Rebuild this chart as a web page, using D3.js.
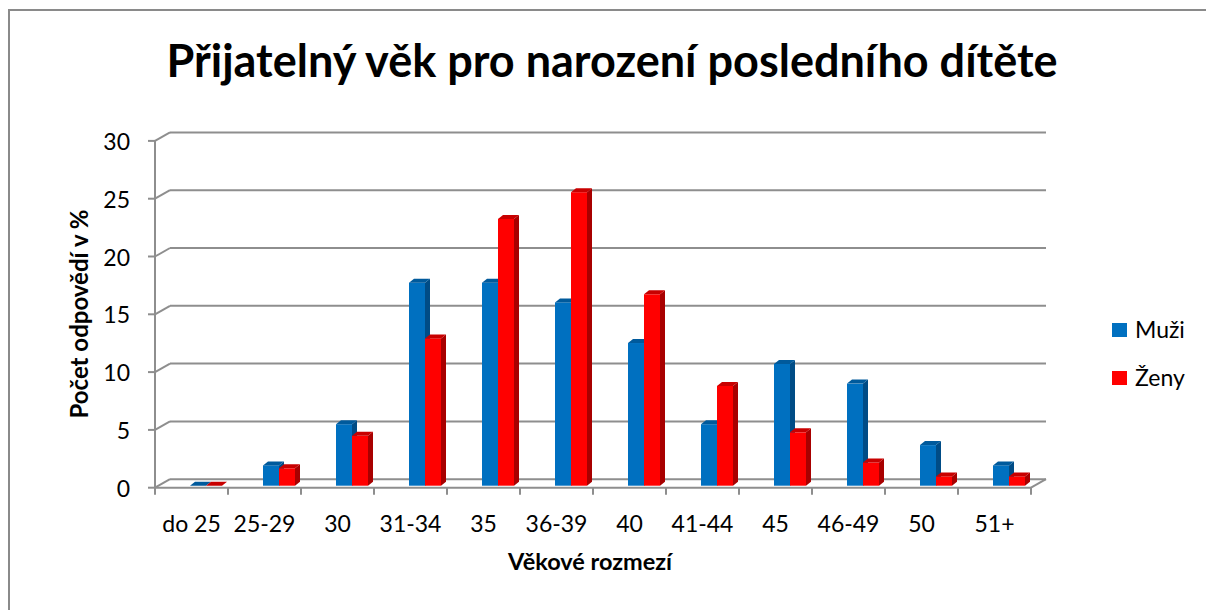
<!DOCTYPE html>
<html>
<head>
<meta charset="utf-8">
<script src="https://cdn.jsdelivr.net/npm/d3@7"></script>
<style>
  body { margin: 0; background: #fff; }
  text { font-family: Lato, "Open Sans", sans-serif; fill: #000; }
</style>
</head>
<body>
<div id="chart"></div>
<script>
// data
var categories = ["do 25", "25-29", "30", "31-34", "35", "36-39", "40", "41-44", "45", "46-49", "50", "51+"];
var muzi = [0, 1.75, 5.3, 17.5, 17.5, 15.8, 12.3, 5.3, 10.5, 8.8, 3.5, 1.75];
var zeny = [0, 1.5, 4.3, 12.7, 23, 25.3, 16.5, 8.6, 4.6, 2.0, 0.8, 0.8];
var yTicks = [0, 5, 10, 15, 20, 25, 30];
var seriesNames = ["Muži", "Ženy"];

var W = 1206, H = 610;
var blue = {front: "#0070c0", side: "#004c86", top: "#005a9c"};
var red = {front: "#ff0000", side: "#a80000", top: "#c80000"};
var gridColor = "#8e8e8e";

// 3d offsets
var depthX = 15, depthY = -8.5;   // floor / wall depth
var barDX = 5, barDY = -4;        // bar depth
var barW = 16;

var svg = d3.select("#chart").append("svg")
    .attr("width", W)
    .attr("height", H);

// outer border
svg.append("rect")
    .attr("x", 9).attr("y", 10)
    .attr("width", 1210).attr("height", 640)
    .attr("fill", "#fff")
    .attr("stroke", "#8a8a8a").attr("stroke-width", 2);

var x = d3.scaleBand()
    .domain(categories)
    .range([155, 1031]);

var y = d3.scaleLinear()
    .domain([0, 30])
    .range([487.7, 140.9]);

var yBar = d3.scaleLinear()
    .domain([0, 30])
    .range([485.7, 137.7]);

/******** walls and gridlines ********/
var grid = svg.append("g");
grid.selectAll("line.back")
    .data(yTicks)
    .enter().append("line")
    .attr("x1", 155 + depthX).attr("x2", 1031 + depthX)
    .attr("y1", function (d) { return y(d) + depthY; })
    .attr("y2", function (d) { return y(d) + depthY; })
    .attr("stroke", gridColor).attr("stroke-width", 2);
grid.selectAll("line.wall")
    .data(yTicks)
    .enter().append("line")
    .attr("x1", 155).attr("x2", 155 + depthX)
    .attr("y1", function (d) { return y(d); })
    .attr("y2", function (d) { return y(d) + depthY; })
    .attr("stroke", gridColor).attr("stroke-width", 2);
// left axis + ticks
grid.append("line")
    .attr("x1", 155).attr("x2", 155)
    .attr("y1", y(30)).attr("y2", y(0))
    .attr("stroke", gridColor).attr("stroke-width", 2);
grid.selectAll("line.ytick")
    .data(yTicks)
    .enter().append("line")
    .attr("x1", 148).attr("x2", 155)
    .attr("y1", function (d) { return y(d); })
    .attr("y2", function (d) { return y(d); })
    .attr("stroke", gridColor).attr("stroke-width", 2);
// floor front edge and right side
grid.append("line")
    .attr("x1", 155).attr("x2", 1031)
    .attr("y1", y(0)).attr("y2", y(0))
    .attr("stroke", gridColor).attr("stroke-width", 2);
grid.append("line")
    .attr("x1", 1031).attr("x2", 1031 + depthX)
    .attr("y1", y(0)).attr("y2", y(0) + depthY)
    .attr("stroke", gridColor).attr("stroke-width", 2);
// category ticks
grid.selectAll("line.xtick")
    .data(categories.concat(["end"]))
    .enter().append("line")
    .attr("x1", function (d, i) { return 155 + i * x.bandwidth(); })
    .attr("x2", function (d, i) { return 155 + i * x.bandwidth(); })
    .attr("y1", y(0)).attr("y2", y(0) + 7)
    .attr("stroke", gridColor).attr("stroke-width", 2);

/******** bars ********/
function drawBar(g, x0, v, c) {
    var yt = yBar(v), yb = yBar(0);
    g.append("rect")
        .attr("x", x0).attr("y", yt)
        .attr("width", barW).attr("height", yb - yt)
        .attr("fill", c.front);
    g.append("path")
        .attr("d", "M" + (x0 + barW) + "," + yt + "L" + (x0 + barW + barDX) + "," + (yt + barDY) +
            "L" + (x0 + barW + barDX) + "," + (yb + barDY) + "L" + (x0 + barW) + "," + yb + "Z")
        .attr("fill", c.side);
    g.append("path")
        .attr("d", "M" + x0 + "," + yt + "L" + (x0 + barDX) + "," + (yt + barDY) +
            "L" + (x0 + barW + barDX) + "," + (yt + barDY) + "L" + (x0 + barW) + "," + yt + "Z")
        .attr("fill", c.top);
}

var bars = svg.append("g");
categories.forEach(function (cat, i) {
    var x0 = x(cat) + 35;
    var g = bars.append("g").attr("id", "bar" + i);
    drawBar(g, x0, muzi[i], blue);
    drawBar(g, x0 + barW, zeny[i], red);
});

/******** labels ********/
svg.selectAll("text.ylab")
    .data(yTicks)
    .enter().append("text")
    .attr("x", 130)
    .attr("y", function (d) { return y(d) + 9; })
    .attr("text-anchor", "end")
    .style("font-size", "23px")
    .text(function (d) { return d; });

svg.selectAll("text.xlab")
    .data(categories)
    .enter().append("text")
    .attr("x", function (d) { return x(d) + x.bandwidth() / 2; })
    .attr("y", 532)
    .attr("text-anchor", "middle")
    .style("font-size", "23px")
    .text(function (d) { return d; });

svg.append("text")
    .attr("x", 612).attr("y", 77)
    .attr("text-anchor", "middle")
    .style("font-size", "45px").style("font-weight", "bold")
    .text("Přijatelný věk pro narození posledního dítěte");

svg.append("text")
    .attr("transform", "translate(88,314) rotate(-90)")
    .attr("text-anchor", "middle")
    .style("font-size", "24px").style("font-weight", "bold")
    .text("Počet odpovědí v %");

svg.append("text")
    .attr("x", 590).attr("y", 570)
    .attr("text-anchor", "middle")
    .style("font-size", "23.5px").style("font-weight", "bold")
    .text("Věkové rozmezí");

/******** legend ********/
var legend = svg.append("g");
[blue, red].forEach(function (c, i) {
    legend.append("rect")
        .attr("x", 1112).attr("y", 323 + i * 48)
        .attr("width", 15).attr("height", 14)
        .attr("fill", c.front);
    legend.append("text")
        .attr("x", 1135).attr("y", 338 + i * 48)
        .style("font-size", "23px")
        .text(seriesNames[i]);
});
</script>
</body>
</html>
